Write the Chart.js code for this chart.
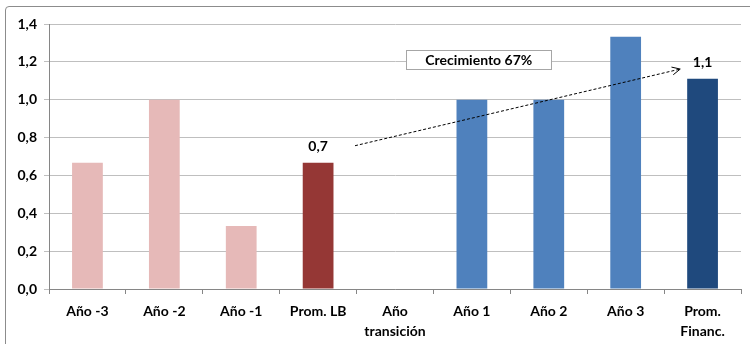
<!DOCTYPE html>
<html>
<head>
<meta charset="utf-8">
<script src="https://cdn.jsdelivr.net/npm/chart.js@4"></script>
<style>
  html, body { margin: 0; padding: 0; background: #fff; overflow: hidden; }
  #wrap { position: relative; width: 750px; height: 344px; overflow: hidden; }
  #frame { position: absolute; left: 5px; top: 6px; width: 760px; height: 360px;
           border: 1px solid #8c8c8c; border-radius: 4px; box-sizing: border-box; }
  canvas { position: absolute; left: 0; top: 0; }
</style>
</head>
<body>
<div id="wrap">
  <div id="frame"></div>
  <canvas id="grafico" width="750" height="344"></canvas>
</div>
<script>
// categorias y valores
const categorias = ['Año -3', 'Año -2', 'Año -1', 'Prom. LB', ['Año', 'transición'], 'Año 1', 'Año 2', 'Año 3', ['Prom.', 'Financ.']];
const valores = [0.667, 1.0, 0.333, 0.667, 0, 1.0, 1.0, 1.333, 1.111];
const colores = ['#E6B9B8', '#E6B9B8', '#E6B9B8', '#953735', '#E6B9B8', '#4F81BD', '#4F81BD', '#4F81BD', '#1F497D'];
const etiquetas = ['', '', '', '0,7', '', '', '', '', '1,1'];
const textoCrecimiento = 'Crecimiento 67%';

const fuente = 'Lato, "Open Sans", sans-serif';

// flecha y caja de texto (en unidades de datos)
const flecha = { x1: 3.48, y1: 0.757, x2: 7.71, y2: 1.162 };
const caja = { x: 5.09, y: 1.215 };

const anotaciones = {
  id: 'anotaciones',
  afterDatasetsDraw(chart) {
    const ctx = chart.ctx;
    const xs = chart.scales.x, ys = chart.scales.y;
    const meta = chart.getDatasetMeta(0);

    ctx.save();
    // etiquetas encima de las barras
    ctx.font = 'bold 14px ' + fuente;
    ctx.fillStyle = '#000';
    ctx.textAlign = 'center';
    ctx.textBaseline = 'middle';
    meta.data.forEach((bar, i) => {
      if (etiquetas[i]) ctx.fillText(etiquetas[i], bar.x, bar.y - 16);
    });

    // flecha punteada
    const x1 = xs.getPixelForValue(flecha.x1), y1 = ys.getPixelForValue(flecha.y1);
    const x2 = xs.getPixelForValue(flecha.x2), y2 = ys.getPixelForValue(flecha.y2);
    ctx.strokeStyle = '#000';
    ctx.lineWidth = 1;
    ctx.setLineDash([3, 2]);
    ctx.beginPath();
    ctx.moveTo(x1, y1);
    ctx.lineTo(x2, y2);
    ctx.stroke();
    ctx.setLineDash([]);
    const ang = Math.atan2(y2 - y1, x2 - x1);
    ctx.beginPath();
    ctx.moveTo(x2 - 9 * Math.cos(ang - 0.45), y2 - 9 * Math.sin(ang - 0.45));
    ctx.lineTo(x2, y2);
    ctx.lineTo(x2 - 9 * Math.cos(ang + 0.45), y2 - 9 * Math.sin(ang + 0.45));
    ctx.stroke();

    // caja de texto
    const cx = xs.getPixelForValue(caja.x), cy = ys.getPixelForValue(caja.y);
    const w = 145, h = 19;
    ctx.fillStyle = '#fff';
    ctx.fillRect(cx - w / 2, cy - h / 2, w, h);
    ctx.strokeStyle = '#a6a6a6';
    ctx.strokeRect(Math.round(cx - w / 2) + 0.5, Math.round(cy - h / 2) + 0.5, w, h);
    ctx.fillStyle = '#000';
    ctx.font = 'bold 14px ' + fuente;
    ctx.fillText(textoCrecimiento, cx, cy + 1);
    ctx.restore();
  }
};

new Chart(document.getElementById('grafico'), {
  type: 'bar',
  data: {
    labels: categorias,
    datasets: [{
      data: valores,
      backgroundColor: colores,
      borderWidth: 0,
      barPercentage: 0.8,
      categoryPercentage: 0.5
    }]
  },
  options: {
    responsive: false,
    animation: false,
    layout: { padding: { left: 0, right: 9, top: 24, bottom: 0 } },
    plugins: { legend: { display: false }, tooltip: { enabled: false } },
    scales: {
      x: {
        offset: true,
        grid: { offset: true, drawOnChartArea: false, drawTicks: true, tickLength: 5, color: '#868686' },
        border: { color: '#868686' },
        ticks: { color: '#000', padding: 8, maxRotation: 0, autoSkip: false,
                 font: { family: fuente, size: 14, weight: 'bold', lineHeight: 1.4 } },
        afterFit(s) { s.height = 55; }
      },
      y: {
        min: 0, max: 1.4,
        grid: { color: '#bfbfbf', tickLength: 5 },
        border: { color: '#868686' },
        ticks: { stepSize: 0.2, color: '#000', padding: 7,
                 font: { family: fuente, size: 14, weight: 'bold' },
                 callback: v => v.toFixed(1).replace('.', ',') },
        afterFit(s) { s.width = 49; }
      }
    }
  },
  plugins: [anotaciones]
});
</script>
</body>
</html>
